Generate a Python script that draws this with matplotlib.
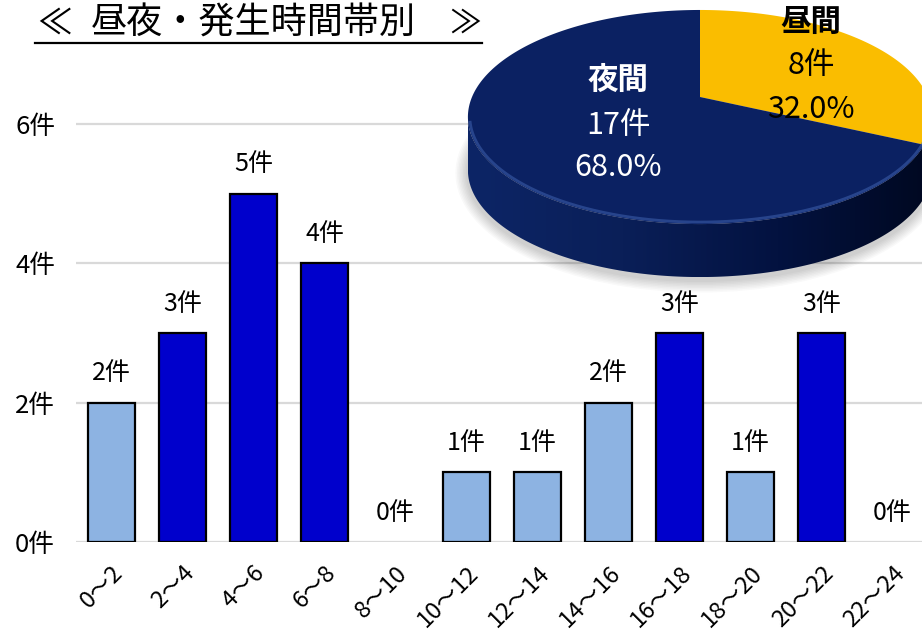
import matplotlib
matplotlib.use('Agg')
import matplotlib.pyplot as plt
from matplotlib.colors import LinearSegmentedColormap
from matplotlib.patches import Polygon, Ellipse
import numpy as np

plt.rcParams['font.family'] = ['Noto Sans CJK JP', 'DejaVu Sans']

# data
hours = ['0～2', '2～4', '4～6', '6～8', '8～10', '10～12',
         '12～14', '14～16', '16～18', '18～20', '20～22', '22～24']
counts = [2, 3, 5, 4, 0, 1, 1, 2, 3, 1, 3, 0]
bar_kind = ['L', 'D', 'D', 'D', 'L', 'L', 'L', 'L', 'D', 'L', 'D', 'L']
pie_labels = ['夜間', '昼間']
pie_counts = [17, 8]

LIGHT = '#8DB3E2'
DARK  = '#0000CC'
NAVY  = '#0B2162'
GOLD  = '#FABD00'
GRID  = '#D9D9D9'

W, H = 922, 641
fig = plt.figure(figsize=(W / 100, H / 100), dpi=100, facecolor='white')

# --- bar chart ---
upx = 69.67   # pixels per count
ax = fig.add_axes([76 / W, 1 - 542 / H, 852 / W, 7 * upx / H])
xs = np.arange(len(hours))
cols = [LIGHT if k == 'L' else DARK for k in bar_kind]
lws = [1.6 if c > 0 else 0 for c in counts]
ax.bar(xs, counts, width=0.65, color=cols, edgecolor='black', linewidth=lws, zorder=3)
for xi, c in zip(xs, counts):
    ax.annotate(f'{c}件', (xi, c), xytext=(0, 21), textcoords='offset points',
                ha='center', va='center', fontsize=18)
ax.set_xlim(-0.5, len(hours) - 0.5)
ax.set_ylim(0, 7)
ax.set_yticks([0, 2, 4, 6])
ax.set_yticklabels([f'{v}件' for v in [0, 2, 4, 6]], fontsize=18.5)
ax.set_xticks(xs)
ax.set_xticklabels(hours, fontsize=17, rotation=45, ha='right', rotation_mode='anchor')
ax.tick_params(axis='y', length=0, pad=15)
ax.tick_params(axis='x', length=0, pad=14)
ax.yaxis.grid(True, color=GRID, linewidth=1.6, zorder=0)
for sp in ax.spines.values():
    sp.set_visible(False)

# --- title ---
ty = 1 - 24 / H
fig.text(37 / W, ty, '≪', fontsize=25, ha='left', va='center')
fig.text(91 / W, ty, '昼夜・発生時間帯別', fontsize=26, ha='left', va='center')
fig.text(481 / W, ty, '≫', fontsize=23, ha='right', va='center')
fig.add_artist(plt.Line2D([35 / W, 482 / W], [1 - 43 / H, 1 - 43 / H],
                          color='black', linewidth=1.6))

# --- 3D-looking pie (pixel coordinates overlay) ---
pa = fig.add_axes([0, 0, 1, 1], zorder=5)
pa.set_xlim(0, W)
pa.set_ylim(H, 0)
pa.axis('off')

cx, cy = 700, 97          # apex of wedges
s = -0.187                # perspective factor
A, B = 228, 103.3
T = 53                    # rim thickness


def proj(theta):
    # theta clockwise from top (radians)
    u, w = np.sin(theta), -np.cos(theta)
    d = 1 + s * w
    return cx + A * u / d, cy + B * w / d


ecx = cx
ecy = cy + B * (-s / (1 - s ** 2))
ea = A / np.sqrt(1 - s ** 2)
eb = B / (1 - s ** 2)

# shadow
for i in range(8):
    pa.add_patch(Ellipse((ecx, ecy + T + 3), 2 * ea + 4 + i * 3, 2 * eb + 4 + i * 3,
                         facecolor='black', edgecolor='none', alpha=0.025))

# rim
t = np.linspace(0, np.pi, 200)
rx = ecx + ea * np.cos(t)
ry = ecy + eb * np.sin(t)
rim_xy = np.column_stack([np.r_[rx, rx[::-1]], np.r_[ry, ry[::-1] + T]])
rim = Polygon(rim_xy, closed=True, facecolor='none', edgecolor='none')
pa.add_patch(rim)
cmap = LinearSegmentedColormap.from_list('rim', ['#0D2566', '#0A1F58', '#031240', '#000820'])
grad = np.linspace(0, 1, 256).reshape(1, -1)
im = pa.imshow(grad, cmap=cmap, extent=(ecx - ea, ecx + ea, ecy + eb + T, ecy),
               aspect='auto', zorder=2)
im.set_clip_path(rim)

# gold part of rim
total = sum(pie_counts)
gold_end = 2 * np.pi * pie_counts[1] / total
bx, by = proj(gold_end)
tg = np.linspace(0, np.arcsin(np.clip((by - ecy) / eb, -1, 1)), 30)
gx = ecx + ea * np.cos(tg)
gy = ecy + eb * np.sin(tg)
pa.add_patch(Polygon(np.column_stack([np.r_[gx, gx[::-1]], np.r_[gy, gy[::-1] + T]]),
                     closed=True, facecolor='#B88A00', edgecolor='none', zorder=2.5))

# top faces
th_gold = np.linspace(0, gold_end, 120)
th_navy = np.linspace(gold_end, 2 * np.pi, 240)
gpx, gpy = proj(th_gold)
npx, npy = proj(th_navy)
pa.add_patch(Polygon(np.column_stack([np.r_[cx, gpx], np.r_[cy, gpy]]), closed=True,
                     facecolor=GOLD, edgecolor='none', zorder=3))
pa.add_patch(Polygon(np.column_stack([np.r_[cx, npx], np.r_[cy, npy]]), closed=True,
                     facecolor=NAVY, edgecolor='none', zorder=3))

# bevel highlight along the front edge
tb = np.linspace(0.25, np.pi - 0.05, 200)
pa.plot(ecx + (ea - 2) * np.cos(tb), ecy + (eb - 2) * np.sin(tb),
        color='#3F62B0', linewidth=2.0, alpha=0.55, zorder=4)

# labels
pct = [c / total * 100 for c in pie_counts]
pa.text(618, 80, pie_labels[0], color='white', fontsize=22, fontweight='bold',
        ha='center', va='center', zorder=6)
pa.text(618, 125, f'{pie_counts[0]}件', color='white', fontsize=22,
        ha='center', va='center', zorder=6)
pa.text(618, 168, f'{pct[0]:.1f}%', color='white', fontsize=22,
        ha='center', va='center', zorder=6)
pa.text(811, 22, pie_labels[1], color='black', fontsize=22, fontweight='bold',
        ha='center', va='center', zorder=6)
pa.text(811, 66, f'{pie_counts[1]}件', color='black', fontsize=22,
        ha='center', va='center', zorder=6)
pa.text(811, 110, f'{pct[1]:.1f}%', color='black', fontsize=22,
        ha='center', va='center', zorder=6)

fig.savefig('out.png', dpi=100, facecolor='white')
